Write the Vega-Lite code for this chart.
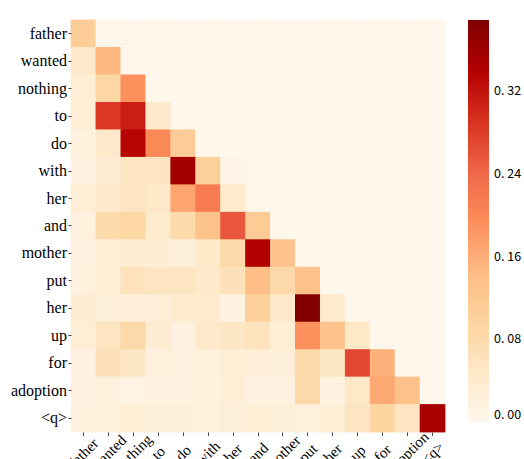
{
  "$schema": "https://vega.github.io/schema/vega-lite/v6.json",
  "autosize": {"type": "none"},
  "padding": {"left": 71, "top": 20, "right": 79, "bottom": 27},
  "width": 374,
  "height": 412,
  "background": "white",
  "view": {"stroke": null, "fill": "#fef3e2"},
  "data": {"values": [
    {"i":0,"j":0,"v":0.11},{"i":0,"j":1,"v":0},{"i":0,"j":2,"v":0},{"i":0,"j":3,"v":0},{"i":0,"j":4,"v":0},{"i":0,"j":5,"v":0},{"i":0,"j":6,"v":0},{"i":0,"j":7,"v":0},{"i":0,"j":8,"v":0},{"i":0,"j":9,"v":0},{"i":0,"j":10,"v":0},{"i":0,"j":11,"v":0},{"i":0,"j":12,"v":0},{"i":0,"j":13,"v":0},{"i":0,"j":14,"v":0},
    {"i":1,"j":0,"v":0.045},{"i":1,"j":1,"v":0.15},{"i":1,"j":2,"v":0},{"i":1,"j":3,"v":0},{"i":1,"j":4,"v":0},{"i":1,"j":5,"v":0},{"i":1,"j":6,"v":0},{"i":1,"j":7,"v":0},{"i":1,"j":8,"v":0},{"i":1,"j":9,"v":0},{"i":1,"j":10,"v":0},{"i":1,"j":11,"v":0},{"i":1,"j":12,"v":0},{"i":1,"j":13,"v":0},{"i":1,"j":14,"v":0},
    {"i":2,"j":0,"v":0.03},{"i":2,"j":1,"v":0.09},{"i":2,"j":2,"v":0.19},{"i":2,"j":3,"v":0},{"i":2,"j":4,"v":0},{"i":2,"j":5,"v":0},{"i":2,"j":6,"v":0},{"i":2,"j":7,"v":0},{"i":2,"j":8,"v":0},{"i":2,"j":9,"v":0},{"i":2,"j":10,"v":0},{"i":2,"j":11,"v":0},{"i":2,"j":12,"v":0},{"i":2,"j":13,"v":0},{"i":2,"j":14,"v":0},
    {"i":3,"j":0,"v":0.03},{"i":3,"j":1,"v":0.285},{"i":3,"j":2,"v":0.31},{"i":3,"j":3,"v":0.045},{"i":3,"j":4,"v":0},{"i":3,"j":5,"v":0},{"i":3,"j":6,"v":0},{"i":3,"j":7,"v":0},{"i":3,"j":8,"v":0},{"i":3,"j":9,"v":0},{"i":3,"j":10,"v":0},{"i":3,"j":11,"v":0},{"i":3,"j":12,"v":0},{"i":3,"j":13,"v":0},{"i":3,"j":14,"v":0},
    {"i":4,"j":0,"v":0.02},{"i":4,"j":1,"v":0.045},{"i":4,"j":2,"v":0.335},{"i":4,"j":3,"v":0.2},{"i":4,"j":4,"v":0.115},{"i":4,"j":5,"v":0},{"i":4,"j":6,"v":0},{"i":4,"j":7,"v":0},{"i":4,"j":8,"v":0},{"i":4,"j":9,"v":0},{"i":4,"j":10,"v":0},{"i":4,"j":11,"v":0},{"i":4,"j":12,"v":0},{"i":4,"j":13,"v":0},{"i":4,"j":14,"v":0},
    {"i":5,"j":0,"v":0.015},{"i":5,"j":1,"v":0.035},{"i":5,"j":2,"v":0.055},{"i":5,"j":3,"v":0.058},{"i":5,"j":4,"v":0.355},{"i":5,"j":5,"v":0.105},{"i":5,"j":6,"v":0.01},{"i":5,"j":7,"v":0},{"i":5,"j":8,"v":0},{"i":5,"j":9,"v":0},{"i":5,"j":10,"v":0},{"i":5,"j":11,"v":0},{"i":5,"j":12,"v":0},{"i":5,"j":13,"v":0},{"i":5,"j":14,"v":0},
    {"i":6,"j":0,"v":0.03},{"i":6,"j":1,"v":0.045},{"i":6,"j":2,"v":0.058},{"i":6,"j":3,"v":0.048},{"i":6,"j":4,"v":0.17},{"i":6,"j":5,"v":0.215},{"i":6,"j":6,"v":0.04},{"i":6,"j":7,"v":0},{"i":6,"j":8,"v":0},{"i":6,"j":9,"v":0},{"i":6,"j":10,"v":0},{"i":6,"j":11,"v":0},{"i":6,"j":12,"v":0},{"i":6,"j":13,"v":0},{"i":6,"j":14,"v":0},
    {"i":7,"j":0,"v":0.02},{"i":7,"j":1,"v":0.08},{"i":7,"j":2,"v":0.09},{"i":7,"j":3,"v":0.04},{"i":7,"j":4,"v":0.08},{"i":7,"j":5,"v":0.13},{"i":7,"j":6,"v":0.255},{"i":7,"j":7,"v":0.115},{"i":7,"j":8,"v":0},{"i":7,"j":9,"v":0},{"i":7,"j":10,"v":0},{"i":7,"j":11,"v":0},{"i":7,"j":12,"v":0},{"i":7,"j":13,"v":0},{"i":7,"j":14,"v":0},
    {"i":8,"j":0,"v":0.018},{"i":8,"j":1,"v":0.03},{"i":8,"j":2,"v":0.035},{"i":8,"j":3,"v":0.033},{"i":8,"j":4,"v":0.025},{"i":8,"j":5,"v":0.047},{"i":8,"j":6,"v":0.085},{"i":8,"j":7,"v":0.34},{"i":8,"j":8,"v":0.13},{"i":8,"j":9,"v":0},{"i":8,"j":10,"v":0},{"i":8,"j":11,"v":0},{"i":8,"j":12,"v":0},{"i":8,"j":13,"v":0},{"i":8,"j":14,"v":0},
    {"i":9,"j":0,"v":0.02},{"i":9,"j":1,"v":0.03},{"i":9,"j":2,"v":0.062},{"i":9,"j":3,"v":0.055},{"i":9,"j":4,"v":0.055},{"i":9,"j":5,"v":0.045},{"i":9,"j":6,"v":0.065},{"i":9,"j":7,"v":0.14},{"i":9,"j":8,"v":0.085},{"i":9,"j":9,"v":0.135},{"i":9,"j":10,"v":0},{"i":9,"j":11,"v":0},{"i":9,"j":12,"v":0},{"i":9,"j":13,"v":0},{"i":9,"j":14,"v":0},
    {"i":10,"j":0,"v":0.032},{"i":10,"j":1,"v":0.025},{"i":10,"j":2,"v":0.028},{"i":10,"j":3,"v":0.028},{"i":10,"j":4,"v":0.04},{"i":10,"j":5,"v":0.04},{"i":10,"j":6,"v":0.015},{"i":10,"j":7,"v":0.105},{"i":10,"j":8,"v":0.045},{"i":10,"j":9,"v":0.385},{"i":10,"j":10,"v":0.04},{"i":10,"j":11,"v":0},{"i":10,"j":12,"v":0},{"i":10,"j":13,"v":0},{"i":10,"j":14,"v":0},
    {"i":11,"j":0,"v":0.03},{"i":11,"j":1,"v":0.055},{"i":11,"j":2,"v":0.085},{"i":11,"j":3,"v":0.035},{"i":11,"j":4,"v":0.018},{"i":11,"j":5,"v":0.045},{"i":11,"j":6,"v":0.05},{"i":11,"j":7,"v":0.06},{"i":11,"j":8,"v":0.03},{"i":11,"j":9,"v":0.19},{"i":11,"j":10,"v":0.13},{"i":11,"j":11,"v":0.048},{"i":11,"j":12,"v":0},{"i":11,"j":13,"v":0},{"i":11,"j":14,"v":0},
    {"i":12,"j":0,"v":0.018},{"i":12,"j":1,"v":0.065},{"i":12,"j":2,"v":0.05},{"i":12,"j":3,"v":0.02},{"i":12,"j":4,"v":0.018},{"i":12,"j":5,"v":0.022},{"i":12,"j":6,"v":0.03},{"i":12,"j":7,"v":0.028},{"i":12,"j":8,"v":0.025},{"i":12,"j":9,"v":0.085},{"i":12,"j":10,"v":0.052},{"i":12,"j":11,"v":0.27},{"i":12,"j":12,"v":0.155},{"i":12,"j":13,"v":0},{"i":12,"j":14,"v":0},
    {"i":13,"j":0,"v":0.015},{"i":13,"j":1,"v":0.02},{"i":13,"j":2,"v":0.012},{"i":13,"j":3,"v":0.015},{"i":13,"j":4,"v":0.015},{"i":13,"j":5,"v":0.02},{"i":13,"j":6,"v":0.03},{"i":13,"j":7,"v":0.018},{"i":13,"j":8,"v":0.015},{"i":13,"j":9,"v":0.085},{"i":13,"j":10,"v":0.015},{"i":13,"j":11,"v":0.048},{"i":13,"j":12,"v":0.165},{"i":13,"j":13,"v":0.135},{"i":13,"j":14,"v":0},
    {"i":14,"j":0,"v":0.02},{"i":14,"j":1,"v":0.022},{"i":14,"j":2,"v":0.03},{"i":14,"j":3,"v":0.025},{"i":14,"j":4,"v":0.025},{"i":14,"j":5,"v":0.02},{"i":14,"j":6,"v":0.025},{"i":14,"j":7,"v":0.03},{"i":14,"j":8,"v":0.025},{"i":14,"j":9,"v":0.022},{"i":14,"j":10,"v":0.03},{"i":14,"j":11,"v":0.055},{"i":14,"j":12,"v":0.095},{"i":14,"j":13,"v":0.058},{"i":14,"j":14,"v":0.35}
  ]},
  "mark": {"type": "rect", "width": {"band": 1.03}, "height": {"band": 1.03}},
  "encoding": {
    "x": {
      "field": "j", "type": "ordinal",
      "scale": {"paddingInner": 0, "paddingOuter": 0},
      "axis": {
        "title": null, "domain": false, "grid": false,
        "labelAngle": -45, "labelAlign": "center", "labelBaseline": "middle",
        "labelPadding": 17, "tickSize": 3.5, "tickColor": "#444",
        "labelFont": "Liberation Serif", "labelFontSize": 15, "labelColor": "#000",
        "labelOverlap": false, "labelBound": false,
        "labelExpr": "['father','wanted','nothing','to','do','with','her','and','mother','put','her','up','for','adoption','<q>'][datum.value]"
      }
    },
    "y": {
      "field": "i", "type": "ordinal",
      "scale": {"paddingInner": 0, "paddingOuter": 0},
      "axis": {
        "title": null, "domain": false, "grid": false,
        "labelPadding": 1.5, "tickSize": 3, "tickColor": "#444",
        "labelFont": "Liberation Serif", "labelFontSize": 16, "labelColor": "#000",
        "labelOverlap": false,
        "labelExpr": "['father','wanted','nothing','to','do','with','her','and','mother','put','her','up','for','adoption','<q>'][datum.value]"
      }
    },
    "color": {
      "field": "v", "type": "quantitative",
      "scale": {
        "domain": [0, 0.048625, 0.09725, 0.145875, 0.1945, 0.243125, 0.29175, 0.340375, 0.389],
        "range": ["#fff7ec", "#fee8c8", "#fdd49e", "#fdbb84", "#fc8d59", "#ef6548", "#d7301f", "#b30000", "#7f0000"],
        "interpolate": "rgb"
      },
      "legend": {
        "type": "gradient",
        "title": null, "orient": "none", "legendX": 397, "legendY": 0,
        "direction": "vertical", "gradientLength": 402, "gradientThickness": 21,
        "gradientStrokeWidth": 0,
        "values": [0, 0.08, 0.16, 0.24, 0.32],
        "labelExpr": "replace(format(datum.value, '.2f'), '.', '. ')",
        "labelFont": "Noto Sans CJK SC", "labelFontSize": 12.5, "labelColor": "#000",
        "labelOffset": 5, "labelBaseline": "middle", "labelOverlap": false
      }
    }
  }
}
